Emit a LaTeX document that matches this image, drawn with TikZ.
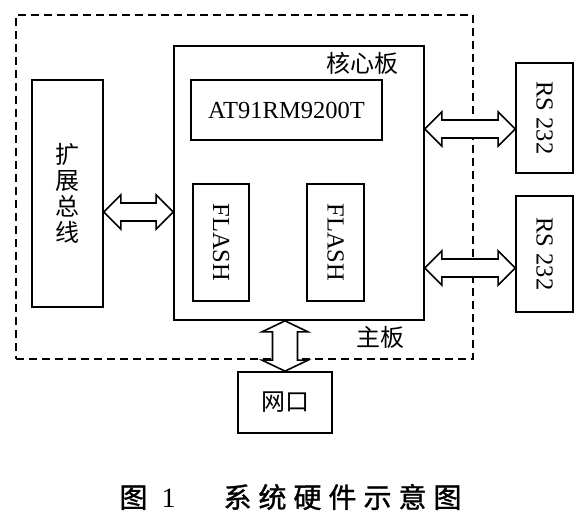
\documentclass[tikz,border=0pt]{standalone}
\usepackage{fontspec}
\setmainfont{Liberation Serif}
\newfontfamily\cjk{Noto Sans CJK SC}
\newfontfamily\cjkcap[FakeBold=1.2]{Noto Sans CJK SC}
\usepackage{graphicx}
\usetikzlibrary{calc}

% wide double-headed arrows between two boxes
\newcommand\harrow[2]{%
  \draw[fatarrow] let \p1=(#1), \p2=(#2) in
    (\x1,\y1) -- (\x1+17pt,\y1+17pt) -- (\x1+17pt,\y1+9pt) -- (\x2-17pt,\y1+9pt)
    -- (\x2-17pt,\y1+17pt) -- (\x2,\y1) -- (\x2-17pt,\y1-17pt) -- (\x2-17pt,\y1-9pt)
    -- (\x1+17pt,\y1-9pt) -- (\x1+17pt,\y1-17pt) -- cycle;}
\newcommand\varrow[2]{%
  \draw[fatarrow] let \p1=(#1), \p2=(#2) in
    (\x1,\y1) -- (\x1+23pt,\y1-11pt) -- (\x1+12.5pt,\y1-11pt) -- (\x1+12.5pt,\y2+11pt)
    -- (\x1+23pt,\y2+11pt) -- (\x1,\y2) -- (\x1-23pt,\y2+11pt) -- (\x1-12.5pt,\y2+11pt)
    -- (\x1-12.5pt,\y1-11pt) -- (\x1-23pt,\y1-11pt) -- cycle;}

\begin{document}
\begin{tikzpicture}[x=1pt,y=-1pt,
    box/.style={draw,line width=1.7pt,inner sep=0pt},
    mainbox/.style={draw,line width=1.6pt,dash pattern=on 8pt off 5pt,inner sep=0pt},
    fatarrow/.style={draw,fill=white,line width=1.6pt,line join=miter},
    latin/.style={font=\fontsize{24.5}{27}\selectfont},
    hanzi/.style={font=\cjk\fontsize{24}{26}\selectfont},
    caption/.style={font=\cjkcap\fontsize{28}{30}\selectfont}]
  \fill[white] (0,0) rectangle (582,523);
  \useasboundingbox (0,0) rectangle (582,523);

  % main board (dashed)
  \node[mainbox,minimum width=457,minimum height=344] (mainb) at (244.5,187) {};
  \node[hanzi] (mainlbl) at (380,337) {主板};

  % core board
  \node[box,minimum width=250,minimum height=274] (core) at (299,183) {};
  \node[hanzi] (corelbl) at (362,63) {核心板};
  \node[box,latin,minimum width=191,minimum height=60] (cpu) at (286.5,110) {AT91RM9200T};
  \node[box,latin,minimum width=56,minimum height=117] (flashA) at (221,242.5) {\rotatebox{-90}{FLASH}};
  \node[box,latin,minimum width=57,minimum height=117] (flashB) at (335.5,242.5) {\rotatebox{-90}{FLASH}};

  % outside boxes
  \node[box,hanzi,align=center,minimum width=71,minimum height=227] (ext) at (67.5,193.5) {扩\\展\\总\\线};
  \node[box,latin,minimum width=57,minimum height=110] (rsA) at (544.5,118) {\rotatebox{-90}{RS 232}};
  \node[box,latin,minimum width=57,minimum height=116] (rsB) at (544.5,254) {\rotatebox{-90}{RS 232}};
  \node[box,hanzi,minimum width=94,minimum height=61] (net) at (285,402.5) {网口};

  % links
  \harrow{ext.east |- 0,212}{core.west |- 0,212}
  \harrow{core.east |- 0,129}{rsA.west |- 0,129}
  \harrow{core.east |- 0,268}{rsB.west |- 0,268}
  \varrow{core.south -| net.north}{net.north}

  % caption
  \node[caption,anchor=west] (cap) at (116,497)
    {图\hspace{14pt}{\rmfamily 1}\hspace{48pt}系\hspace{7pt}统\hspace{7pt}硬\hspace{7pt}件\hspace{7pt}示\hspace{7pt}意\hspace{7pt}图};
\end{tikzpicture}
\end{document}
